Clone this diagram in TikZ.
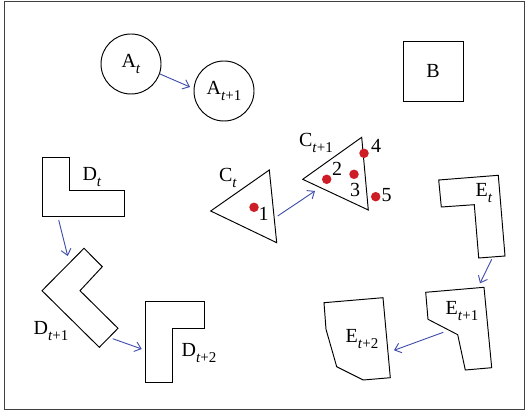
\documentclass[tikz,border=0pt]{standalone}
\usepackage{fontspec}
\setmainfont{Liberation Serif}
\usetikzlibrary{arrows.meta}
\newcommand{\sub}[2]{#1\raisebox{-0.3em}{\fontsize{15}{15}\selectfont #2}}
\begin{document}
\begin{tikzpicture}[x=1pt,y=-1pt,
  outline/.style={draw=black,line width=0.95pt,line join=miter},
  conn/.style={draw={rgb,255:red,60;green,75;blue,170},line width=0.9pt,-{Straight Barb[length=6pt,width=10pt]}},
  lbl/.style={inner sep=0pt,font=\fontsize{20}{22}\selectfont},
  dot/.style={circle,fill={rgb,255:red,205;green,30;blue,40},inner sep=0pt,minimum size=9.5pt},
  circ/.style={circle,draw=black,line width=0.95pt,minimum size=60pt,inner sep=0pt,font=\fontsize{20}{22}\selectfont}]
\useasboundingbox (0,0) rectangle (527,411);
\draw[line width=1pt,black!75] (4,2) rectangle (524,409);
% A
\node[circ] (At) at (131,64) {\sub{A}{\textit{t}}};
\node[circ] (At1) at (224,91) {\sub{A}{\textit{t}+1}};
\coordinate (a1) at (160,74);
\coordinate (a2) at (190,87);
\draw[conn] (a1) -- (a2);
% B
\node[draw=black,line width=0.95pt,minimum size=60pt,inner sep=0pt,font=\fontsize{20}{22}\selectfont] (B) at (433,71) {B};
% D_t
\draw[outline] (42.7,157.3) -- (69.3,157.3) -- (69.3,190.7) -- (124,190.7) -- (124,216.7) -- (42.7,216.7) -- cycle;
\node[lbl] (Dt) at (92,177) {\sub{D}{\textit{t}}};
% D_{t+1}
\draw[outline] (84,248.3) -- (102.3,266.7) -- (80,290.7) -- (118,328.3) -- (99.3,347.3) -- (42,290.7) -- cycle;
\node[lbl] (Dt1) at (51,331) {\sub{D}{\textit{t}+1}};
% D_{t+2}
\draw[outline] (145.7,301) -- (204.7,301) -- (204.7,328) -- (172.3,328) -- (172.3,382) -- (145.7,382) -- cycle;
\node[lbl] (Dt2) at (199,353) {\sub{D}{\textit{t}+2}};
\coordinate (d1) at (58.7,220);
\coordinate (d2) at (67.7,256);
\draw[conn] (d1) -- (d2);
\coordinate (d3) at (112.7,338.7);
\coordinate (d4) at (141.7,349);
\draw[conn] (d3) -- (d4);
% C_t
\draw[outline] (210.7,211) -- (269.3,170) -- (276.7,242.7) -- cycle;
\node[lbl] (Ct) at (228,178) {\sub{C}{\textit{t}}};
\node[dot] (p1) at (254,207.3) {};
\node[lbl] (n1) at (263.5,214) {1};
% C_{t+1}
\draw[outline] (302.7,179.3) -- (361.7,137.3) -- (368.3,210) -- cycle;
\node[lbl] (Ct1) at (316,143) {\sub{C}{\textit{t}+1}};
\node[dot] (p2) at (326.7,179.3) {};
\node[dot] (p3) at (354,174.3) {};
\node[dot] (p4) at (364,153.3) {};
\node[dot] (p5) at (375.7,196.7) {};
\node[lbl] (n2) at (337,168.5) {2};
\node[lbl] (n3) at (355,190) {3};
\node[lbl] (n4) at (376,145.5) {4};
\node[lbl] (n5) at (386.5,195.5) {5};
\coordinate (c1) at (277.7,216);
\coordinate (c2) at (315,191);
\draw[conn] (c1) -- (c2);
% E_t
\draw[outline] (438.7,180) -- (498.3,175.3) -- (505,256) -- (478.7,258) -- (474.3,204.7) -- (441.3,207) -- cycle;
\node[lbl] (Et) at (484,193) {\sub{E}{\textit{t}}};
% E_{t+1}
\draw[outline] (425.7,292.3) -- (484,287.3) -- (491.7,367.7) -- (465.3,370) -- (457.7,334.7) -- (428,319.3) -- cycle;
\node[lbl] (Et1) at (462,311) {\sub{E}{\textit{t}+1}};
% E_{t+2}
\draw[outline] (324,302.7) -- (383,297.7) -- (390.3,377.7) -- (363.3,380) -- (336.7,366.7) -- (326,329.3) -- cycle;
\node[lbl] (Et2) at (362,339) {\sub{E}{\textit{t}+2}};
\coordinate (e1) at (491.7,259.3);
\coordinate (e2) at (480,283.3);
\draw[conn] (e1) -- (e2);
\coordinate (e3) at (443.3,332.3);
\coordinate (e4) at (394,350.3);
\draw[conn] (e3) -- (e4);
\end{tikzpicture}
\end{document}
